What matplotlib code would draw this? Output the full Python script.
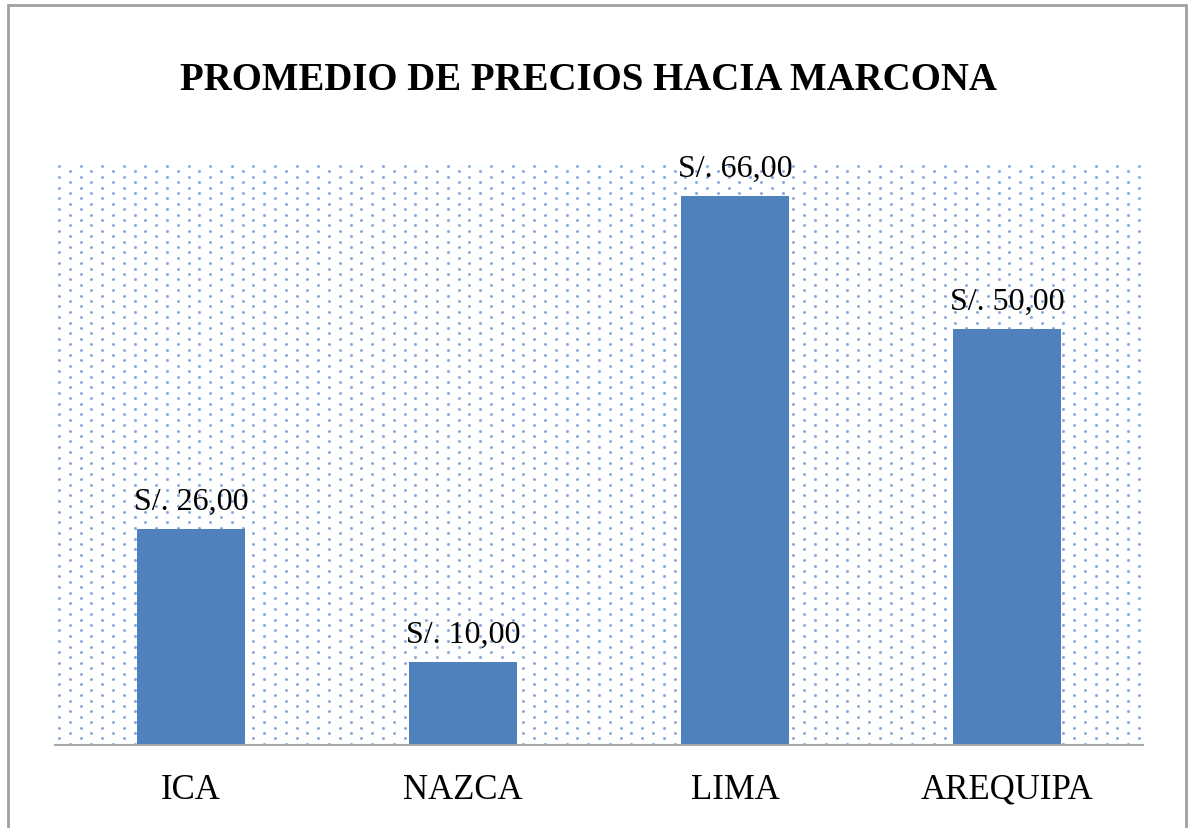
import numpy as np
import matplotlib
matplotlib.use("Agg")
import matplotlib.pyplot as plt
from matplotlib.patches import Rectangle

# data
categories = ["ICA", "NAZCA", "LIMA", "AREQUIPA"]
prices = [26, 10, 66, 50]
title = "PROMEDIO DE PRECIOS HACIA MARCONA"

bar_color = "#4F81BD"
serif = ["Liberation Serif", "DejaVu Serif"]

W, H = 1192, 829
fig = plt.figure(figsize=(W / 100, H / 100), dpi=100)
ax = fig.add_axes([55 / W, (H - 746) / H, (1143 - 55) / W, (746 - 164) / H])

# dotted background fill (staggered dot grid)
ax_w, ax_h = 1143 - 55, 746 - 164
dx, dy = 21.6, 5.4
xs_pts, ys_pts = [], []
for i, yy in enumerate(np.arange(3, ax_h, dy)):
    off = 4 if i % 2 == 0 else 4 + dx / 2
    for xx in np.arange(off, ax_w - 2, dx):
        xs_pts.append(xx / ax_w)
        ys_pts.append(1 - yy / ax_h)
ax.scatter(xs_pts, ys_pts, s=4.5, color="#86A8DA", linewidths=0,
           transform=ax.transAxes, zorder=0)

x = np.arange(len(categories))
ax.bar(x, prices, width=0.4, color=bar_color, zorder=2)

for xi, v in zip(x, prices):
    ax.text(xi, v + 1.6, "S/. " + f"{v:.2f}".replace(".", ","),
            ha="center", va="bottom", fontsize=23, family=serif, zorder=3)

ax.set_xlim(-0.5, len(categories) - 0.5)
ax.set_ylim(0, 70)
ax.set_yticks([])
ax.set_xticks(x)
ax.set_xticklabels(categories, fontsize=25, family=serif)
ax.tick_params(axis="x", length=0, pad=20)
for s in ["top", "left", "right"]:
    ax.spines[s].set_visible(False)
ax.spines["bottom"].set_color("#A6A6A6")
ax.spines["bottom"].set_linewidth(1.5)
ax.patch.set_alpha(0)

fig.text(588 / W, 1 - 80 / H, title, ha="center", va="center",
         fontsize=28, fontweight="bold", family=serif)

# chart border
fig.patches.append(Rectangle((8 / W, -0.01), (1186 - 8) / W, 1 - 6 / H + 0.01,
                             transform=fig.transFigure, fill=False,
                             edgecolor="#A0A0A0", linewidth=2))

fig.savefig("out.png", dpi=100)
